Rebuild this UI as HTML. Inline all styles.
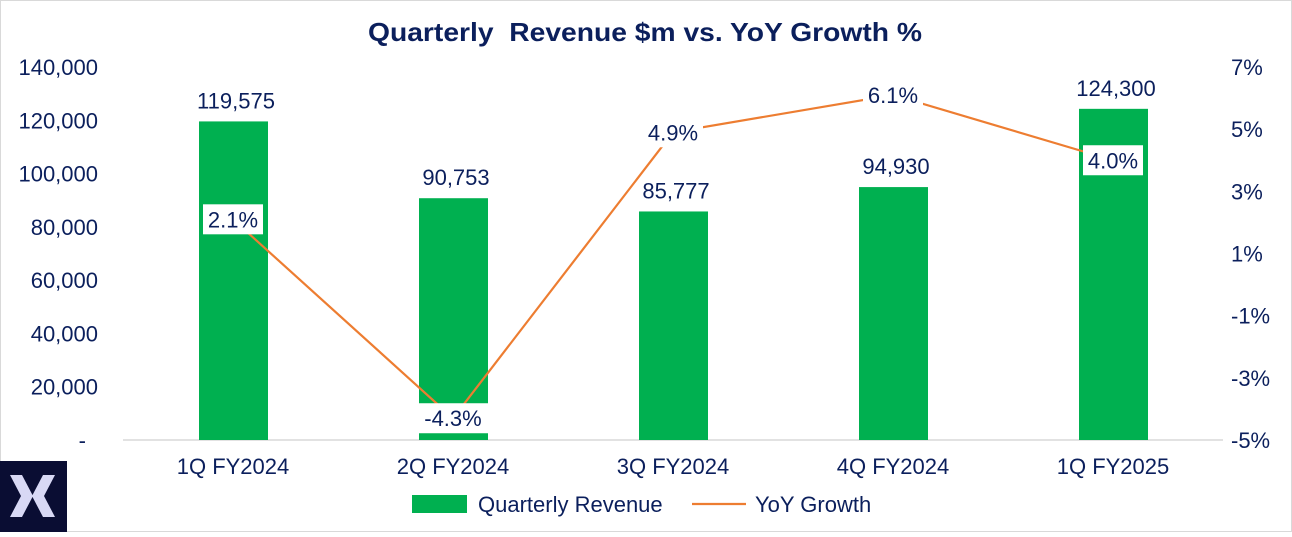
<!DOCTYPE html>
<html><head><meta charset="utf-8"><style>
body{margin:0;width:1292px;height:532px;background:#fff;overflow:hidden;font-family:"Liberation Sans",Arial,sans-serif}
</style></head><body>
<svg id="chart" width="1292" height="532" xmlns="http://www.w3.org/2000/svg">
<rect x="0.5" y="0.5" width="1291" height="531" fill="#fff" stroke="#d9d9d9"/>
<text x="368" y="41" textLength="554" lengthAdjust="spacingAndGlyphs" font-size="26" font-weight="bold" fill="#0b1f5c" xml:space="preserve">Quarterly  Revenue $m vs. YoY Growth %</text>
<g id="axes"></g><g id="bars"></g><g id="line"></g><g id="labels"></g>
<g>
<rect x="412" y="495" width="55" height="18" fill="#00b050"/>
<text x="478" y="512" font-size="22" fill="#0b1f5c">Quarterly Revenue</text>
<line x1="692" y1="504" x2="746" y2="504" stroke="#ed7d31" stroke-width="2.2"/>
<text x="755" y="512" font-size="22" fill="#0b1f5c">YoY Growth</text>
</g>
<g>
<rect x="0" y="461" width="67" height="71" fill="#0a0d33"/>
<polygon points="10,475 22,475 33,496 22,517 10,517 21,496" fill="#d8d8f5"/>
<polygon points="55,475 43,475 32,496 43,517 55,517 44,496" fill="#d8d8f5"/>
</g>
</svg>
<script>
const categories=["1Q FY2024","2Q FY2024","3Q FY2024","4Q FY2024","1Q FY2025"];
const revenue=[119575,90753,85777,94930,124300];
const growth=[2.1,-4.3,4.9,6.1,4.0];
const leftTicks=[0,20000,40000,60000,80000,100000,120000,140000];
const rightTicks=[-5,-3,-1,1,3,5,7];
const NS="http://www.w3.org/2000/svg";
const x0=123,x1=1223,yTop=67,yBot=440;
const yL=v=>yBot-(v/140000)*(yBot-yTop);
const yR=v=>yBot-((v+5)/12)*(yBot-yTop);
const bw=(x1-x0)/categories.length;
const xc=i=>x0+bw*(i+0.5);
function mk(tag,attrs,parent,text){const e=document.createElementNS(NS,tag);for(const k in attrs)e.setAttribute(k,attrs[k]);if(text!==undefined)e.textContent=text;document.getElementById(parent).appendChild(e);return e;}
const fmt=v=>v===0?"-":v.toLocaleString("en-US");
leftTicks.forEach(v=>{const t=mk("text",{x:v===0?86:98,y:yL(v)+8,"text-anchor":"end","font-size":22,fill:"#0b1f5c"},"axes",fmt(v));

});
rightTicks.forEach(v=>{const t=mk("text",{x:1231,y:yR(v)+8,"font-size":22,fill:"#0b1f5c"},"axes",v+"%");

});
const ax=mk("line",{x1:x0,y1:yBot,x2:x1,y2:yBot,stroke:"#d9d9d9","stroke-width":1.5},"axes");


categories.forEach((c,i)=>{const t=mk("text",{x:xc(i),y:474,"text-anchor":"middle","font-size":22,fill:"#0b1f5c"},"axes",c);

});
revenue.forEach((v,i)=>{const b=mk("rect",{x:xc(i)-34,y:yL(v),width:69,height:yBot-yL(v),fill:"#00b050"},"bars");


const t=mk("text",{x:xc(i)+3,y:yL(v)-13,"text-anchor":"middle","font-size":22,fill:"#0b1f5c"},"labels",v.toLocaleString("en-US"));

});
const pl=mk("polyline",{points:growth.map((g,i)=>xc(i)+","+yR(g)).join(" "),fill:"none",stroke:"#ed7d31","stroke-width":2.2},"line");


growth.forEach((g,i)=>{const s=g.toFixed(1)+"%";const w=s.length*12+12;
const r=mk("rect",{x:xc(i)-w/2,y:yR(g)-15,width:w,height:30,fill:"#fff"},"labels");


const t=mk("text",{x:xc(i),y:yR(g)+8,"text-anchor":"middle","font-size":22,fill:"#0b1f5c"},"labels",s);

});
</script>
</body></html>
